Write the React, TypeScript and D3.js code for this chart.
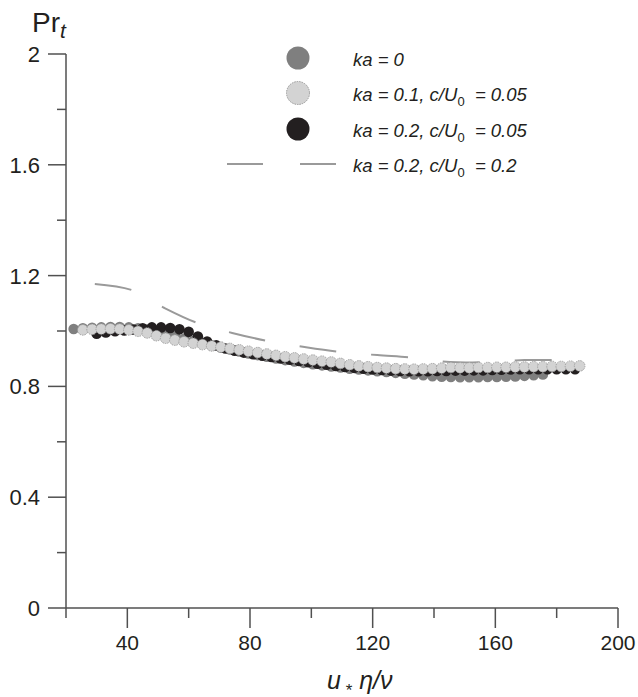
import React from "react";
import * as d3 from "d3";

// ---- data ----
const xTicksMajor = [40, 80, 120, 160, 200];
const xTicksMinor = [20, 60, 100, 140, 180];
const yTicksMajor = [0, 0.4, 0.8, 1.2, 1.6, 2];
const yTicksMinor = [0.2, 0.6, 1.0, 1.4, 1.8];
const yTickLabels = ["0", "0.4", "0.8", "1.2", "1.6", "2"];

// ka = 0
const ka0X = [22.5, 25.5, 28.5, 31.5, 34.5, 37.5, 40.5, 43.5, 46.5, 49.5, 52.5, 55.5, 58.5, 61.5, 64.5, 67.5, 70.5, 73.5, 76.5, 79.5, 82.5, 85.5, 88.5, 91.5, 94.5, 97.5, 100.5, 103.5, 106.5, 109.5, 112.5, 115.5, 118.5, 121.5, 124.5, 127.5, 130.5, 133.5, 136.5, 139.5, 142.5, 145.5, 148.5, 151.5, 154.5, 157.5, 160.5, 163.5, 166.5, 169.5, 172.5, 175.5];
const ka0Y = [1.007, 1.010, 1.012, 1.013, 1.014, 1.014, 1.013, 1.010, 1.005, 0.998, 0.990, 0.981, 0.972, 0.964, 0.956, 0.948, 0.940, 0.933, 0.926, 0.919, 0.913, 0.907, 0.901, 0.895, 0.890, 0.885, 0.880, 0.876, 0.872, 0.868, 0.864, 0.861, 0.858, 0.855, 0.852, 0.849, 0.846, 0.843, 0.840, 0.837, 0.835, 0.834, 0.833, 0.833, 0.833, 0.834, 0.834, 0.835, 0.836, 0.838, 0.840, 0.843];

// ka = 0.2, c/U0 = 0.05
const ka2X = [30, 33, 36, 39, 42, 45, 48, 51, 54, 57, 60, 63, 66, 69, 72, 75, 78, 81, 84, 87, 90, 93, 96, 99, 102, 105, 108, 111, 114, 117, 120, 123, 126, 129, 132, 135, 138, 141, 144, 147, 150, 153, 156, 159, 162, 165, 168, 171, 174, 177, 180, 183, 186];
const ka2Y = [0.990, 0.995, 0.999, 1.002, 1.005, 1.010, 1.013, 1.013, 1.011, 1.006, 0.997, 0.980, 0.962, 0.948, 0.937, 0.929, 0.922, 0.916, 0.911, 0.906, 0.901, 0.896, 0.892, 0.887, 0.882, 0.878, 0.874, 0.870, 0.867, 0.864, 0.861, 0.859, 0.857, 0.856, 0.855, 0.855, 0.855, 0.856, 0.856, 0.857, 0.857, 0.858, 0.858, 0.859, 0.860, 0.861, 0.862, 0.862, 0.862, 0.862, 0.862, 0.862, 0.862];

// ka = 0.1, c/U0 = 0.05
const ka1X = [25.5, 28.5, 31.5, 34.5, 37.5, 40.5, 43.5, 46.5, 49.5, 52.5, 55.5, 58.5, 61.5, 64.5, 67.5, 70.5, 73.5, 76.5, 79.5, 82.5, 85.5, 88.5, 91.5, 94.5, 97.5, 100.5, 103.5, 106.5, 109.5, 112.5, 115.5, 118.5, 121.5, 124.5, 127.5, 130.5, 133.5, 136.5, 139.5, 142.5, 145.5, 148.5, 151.5, 154.5, 157.5, 160.5, 163.5, 166.5, 169.5, 172.5, 175.5, 178.5, 181.5, 184.5, 187.5];
const ka1Y = [1.004, 1.006, 1.007, 1.008, 1.007, 1.004, 0.999, 0.993, 0.983, 0.974, 0.967, 0.961, 0.956, 0.951, 0.946, 0.942, 0.937, 0.932, 0.927, 0.922, 0.917, 0.912, 0.907, 0.903, 0.899, 0.895, 0.891, 0.888, 0.883, 0.878, 0.874, 0.871, 0.868, 0.866, 0.864, 0.863, 0.862, 0.863, 0.864, 0.866, 0.868, 0.867, 0.867, 0.868, 0.868, 0.869, 0.869, 0.870, 0.870, 0.871, 0.871, 0.872, 0.872, 0.873, 0.874];

// ka = 0.2, c/U0 = 0.2 (dashed)
const dashX = [29.4, 41.4, 52.1, 62.8, 74.2, 85.8, 97.8, 109.5, 121.5, 133.5, 145.2, 157.5, 169.5, 180.9];
const dashY = [1.170, 1.148, 1.083, 1.029, 0.993, 0.964, 0.942, 0.924, 0.913, 0.903, 0.888, 0.888, 0.895, 0.895];

const W = 638;
const H = 697;
const FONT = "'Liberation Sans', Arial, Helvetica, sans-serif";
const INK = "#231f20";
const AXIS = "#505050";

export default function App() {
  const x = d3.scaleLinear().domain([20, 200]).range([66, 618]);
  const y = d3.scaleLinear().domain([0, 2]).range([608, 54]);

  const line = d3
    .line<[number, number]>()
    .x((d) => x(d[0]))
    .y((d) => y(d[1]))
    .curve(d3.curveCatmullRom.alpha(0.5));
  const dashPts: [number, number][] = dashX.map((v, i) => [v, dashY[i]]);

  const r = 5.3;

  const legend = [
    { kind: "dot", fill: "#7f7f7f", stroke: "none", label: ["ka = 0"], cy: 58 },
    { kind: "dot", fill: "#d3d3d3", stroke: "#9a9a9a", label: ["ka = 0.1, c/U", "0", "  = 0.05"], cy: 93 },
    { kind: "dot", fill: INK, stroke: "none", label: ["ka = 0.2, c/U", "0", "  = 0.05"], cy: 129 },
    { kind: "line", fill: "none", stroke: "#9a9a9a", label: ["ka = 0.2, c/U", "0", "  = 0.2"], cy: 164 },
  ];

  return (
    <svg
      width={W}
      height={H}
      style={{ position: "absolute", left: 0, top: 0, background: "#fff" }}
      fontFamily={FONT}
    >
      <rect x={0} y={0} width={W} height={H} fill="#fff" />

      {/* axes */}
      <line x1={x(20)} x2={x(200)} y1={y(0)} y2={y(0)} stroke={AXIS} strokeWidth={1.5} />
      <line x1={x(20)} x2={x(20)} y1={y(0)} y2={y(2)} stroke={AXIS} strokeWidth={1.5} />
      {xTicksMajor.map((t) => (
        <g key={"xm" + t}>
          <line x1={x(t)} x2={x(t)} y1={y(0)} y2={y(0) + 20} stroke={AXIS} strokeWidth={1.5} />
          <text x={x(t)} y={650} textAnchor="middle" fontSize={21} fill={INK}>
            {t}
          </text>
        </g>
      ))}
      {xTicksMinor.map((t) => (
        <line key={"xn" + t} x1={x(t)} x2={x(t)} y1={y(0)} y2={y(0) + 10} stroke={AXIS} strokeWidth={1.5} />
      ))}
      {yTicksMajor.map((t, i) => (
        <g key={"ym" + t}>
          <line x1={x(20) - 18} x2={x(20)} y1={y(t)} y2={y(t)} stroke={AXIS} strokeWidth={1.5} />
          <text x={40} y={y(t) + 8} textAnchor="end" fontSize={22} fill={INK}>
            {yTickLabels[i]}
          </text>
        </g>
      ))}
      {yTicksMinor.map((t) => (
        <line key={"yn" + t} x1={x(20) - 9} x2={x(20)} y1={y(t)} y2={y(t)} stroke={AXIS} strokeWidth={1.5} />
      ))}

      {/* axis titles */}
      <text x={32} y={32} fontSize={28} fill={INK}>
        Pr
        <tspan fontStyle="italic" fontSize={21} dy={6}>
          t
        </tspan>
      </text>
      <text x={327} y={689} fontSize={25} fill={INK} fontStyle="italic">
        u
        <tspan fontSize={17} dy={7} fontStyle="normal">
          {" *"}
        </tspan>
        <tspan dy={-7}> η/ν</tspan>
      </text>

      {/* data */}
      <path
        d={line(dashPts) || ""}
        fill="none"
        stroke="#9a9a9a"
        strokeWidth={2}
        strokeDasharray="37 35"
      />
      <g>
        {ka0X.map((v, i) => (
          <circle key={"a" + i} cx={x(v)} cy={y(ka0Y[i])} r={r} fill="#7f7f7f" />
        ))}
      </g>
      <g>
        {ka2X.map((v, i) => (
          <circle key={"c" + i} cx={x(v)} cy={y(ka2Y[i])} r={r} fill={INK} />
        ))}
      </g>
      <g>
        {ka1X.map((v, i) => (
          <circle
            key={"b" + i}
            cx={x(v)}
            cy={y(ka1Y[i])}
            r={r}
            fill="#d3d3d3"
            stroke="#9a9a9a"
            strokeWidth={0.9}
            strokeDasharray="1.5 1"
          />
        ))}
      </g>

      {/* legend */}
      {legend.map((l, i) => (
        <g key={"lg" + i}>
          {l.kind === "dot" ? (
            <circle
              cx={298}
              cy={l.cy}
              r={11.5}
              fill={l.fill}
              stroke={l.stroke}
              strokeWidth={1}
              strokeDasharray={l.stroke === "none" ? undefined : "1.5 1"}
            />
          ) : (
            <line
              x1={227}
              x2={337}
              y1={l.cy}
              y2={l.cy}
              stroke={l.stroke}
              strokeWidth={2}
              strokeDasharray="36 37"
            />
          )}
          <text x={353} y={l.cy + 8} fontSize={18.5} fontStyle="italic" fill={INK} xmlSpace="preserve">
            {l.label[0]}
            {l.label.length > 1 && (
              <>
                <tspan fontSize={13} fontStyle="normal" dy={5}>
                  {l.label[1]}
                </tspan>
                <tspan dy={-5}>{l.label[2]}</tspan>
              </>
            )}
          </text>
        </g>
      ))}
    </svg>
  );
}
